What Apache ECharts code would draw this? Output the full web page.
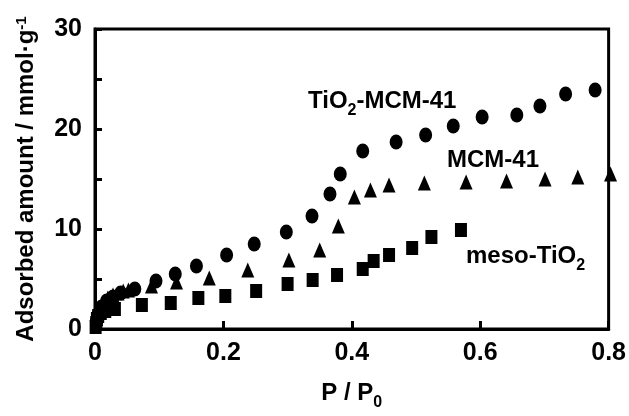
<!DOCTYPE html>
<html>
<head>
<meta charset="utf-8">
<script src="https://cdn.jsdelivr.net/npm/echarts@6/dist/echarts.min.js"></script>
<style>
html,body{margin:0;padding:0;background:#fff;}
#c{width:629px;height:416px;}
</style>
</head>
<body>
<div id="c"></div>
<script>
// P/P0 vs adsorbed amount (mmol/g)
const tio2Mcm41 = [[0.002,0.8],[0.005,1.5],[0.01,2.2],[0.018,2.8],[0.028,3.2],[0.04,3.6],[0.062,4.0],[0.095,4.8],[0.125,5.5],[0.158,6.3],[0.205,7.4],[0.248,8.5],[0.298,9.7],[0.338,11.3],[0.366,13.5],[0.382,15.5],[0.417,17.8],[0.469,18.7],[0.515,19.4],[0.558,20.3],[0.603,21.2],[0.657,21.4],[0.693,22.3],[0.733,23.5],[0.779,23.9]];
const mcm41 = [[0.002,1.0],[0.006,1.8],[0.012,2.6],[0.02,3.1],[0.028,3.4],[0.036,3.6],[0.044,3.8],[0.052,3.9],[0.088,4.3],[0.127,4.7],[0.178,5.1],[0.238,5.9],[0.302,6.9],[0.350,7.9],[0.379,10.3],[0.404,13.2],[0.429,13.9],[0.458,14.4],[0.513,14.6],[0.578,14.7],[0.641,14.8],[0.701,15.0],[0.752,15.2],[0.803,15.5]];
const mesoTio2 = [[0.001,0.2],[0.002,0.6],[0.003,1.0],[0.005,1.3],[0.009,1.6],[0.016,1.8],[0.031,2.0],[0.073,2.4],[0.118,2.6],[0.161,3.1],[0.203,3.3],[0.251,3.8],[0.300,4.5],[0.339,4.9],[0.377,5.4],[0.417,6.0],[0.434,6.8],[0.458,7.4],[0.494,8.1],[0.524,9.2],[0.570,9.9]];
const xTicks = {min:0, max:0.8, interval:0.2};
const yTicks = {min:0, max:30, interval:5, labelEvery:10};

const FONT = '"Liberation Sans", Arial, Helvetica, sans-serif';
const chart = echarts.init(document.getElementById('c'), null, {renderer:'canvas'});
const subStyle = {fontSize:16, fontWeight:'bold', fontFamily:FONT, color:'#000', verticalAlign:'top', lineHeight:16, padding:[14,0,0,0]};
const mainStyle = {fontSize:24, fontWeight:'bold', fontFamily:FONT, color:'#000', lineHeight:24, verticalAlign:'top'};
function label(x, y, rich) {
  return {type:'text', left:x, top:y, style:{text:rich, font:'bold 24px ' + FONT, fill:'#000', rich:{m:mainStyle, s:subStyle}}};
}
chart.setOption({
  animation:false,
  backgroundColor:'#fff',
  grid:{left:95, right:20, top:29, bottom:76, show:true, borderColor:'#000', borderWidth:3, backgroundColor:'transparent'},
  xAxis:{
    type:'value', min:xTicks.min, max:xTicks.max, interval:xTicks.interval,
    name:'{m|P / P}{s|0}', nameLocation:'middle', nameGap:52,
    nameTextStyle:{rich:{m:mainStyle, s:subStyle}},
    axisLine:{show:true, lineStyle:{color:'#000', width:3}},
    axisTick:{show:true, inside:true, length:8, lineStyle:{color:'#000', width:3}},
    axisLabel:{color:'#000', fontSize:25, fontWeight:'bold', fontFamily:FONT, margin:12,
      formatter:v => v === 0 ? '0' : v.toFixed(1)},
    splitLine:{show:false}
  },
  yAxis:{
    type:'value', min:yTicks.min, max:yTicks.max, interval:yTicks.interval,
    name:'{m|Adsorbed amount / mmol·g}{u|-1}', nameLocation:'middle', nameGap:57, nameRotate:90,
    nameTextStyle:{rich:{m:{fontSize:24, fontWeight:'bold', fontFamily:FONT, color:'#000', lineHeight:24}, u:{fontSize:15, fontWeight:'bold', fontFamily:FONT, color:'#000', verticalAlign:'top', lineHeight:20}}},
    axisLine:{show:true, lineStyle:{color:'#000', width:3}},
    axisTick:{show:true, inside:true, length:7, lineStyle:{color:'#000', width:3}},
    axisLabel:{color:'#000', fontSize:25, fontWeight:'bold', fontFamily:FONT, margin:13,
      formatter:v => (v % yTicks.labelEvery === 0 ? String(v) : '')},
    splitLine:{show:false}
  },
  series:[
    {type:'scatter', name:'MCM-41', data:mcm41, symbol:'triangle', symbolSize:[13,15], itemStyle:{color:'#000', opacity:1}, clip:false},
    {type:'scatter', name:'meso-TiO2', data:mesoTio2, symbol:'rect', symbolSize:[12,14], itemStyle:{color:'#000', opacity:1}, clip:false},
    {type:'scatter', name:'TiO2-MCM-41', data:tio2Mcm41, symbol:'circle', symbolSize:[13,15], itemStyle:{color:'#000', opacity:1}, clip:false}
  ],
  graphic:[
    label(308, 89, '{m|TiO}{s|2}{m|-MCM-41}'),
    label(447, 148, '{m|MCM-41}'),
    label(466, 244, '{m|meso-TiO}{s|2}')
  ]
});
</script>
</body>
</html>
